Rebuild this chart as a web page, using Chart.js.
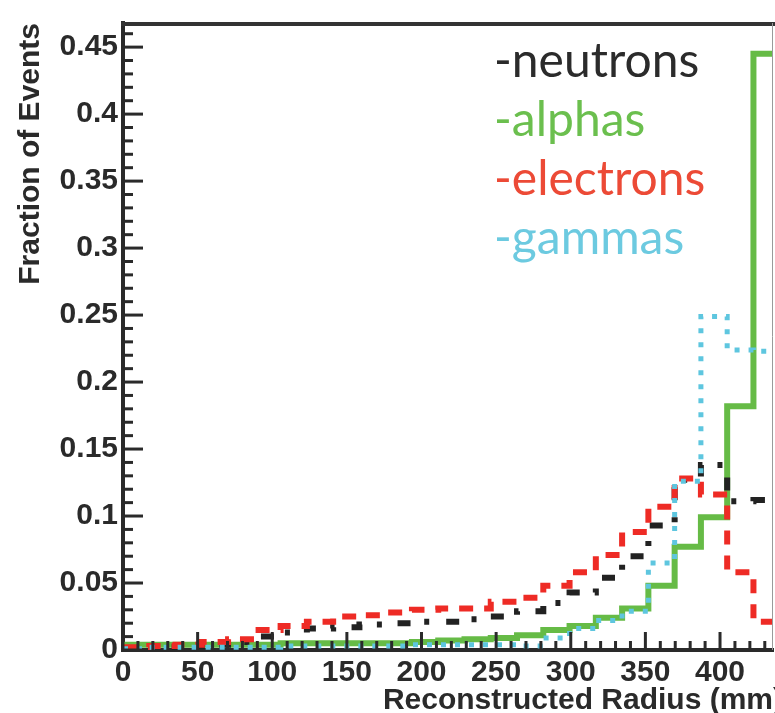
<!DOCTYPE html>
<html>
<head>
<meta charset="utf-8">
<title>Reconstructed Radius</title>
<script src="https://cdn.jsdelivr.net/npm/chart.js@4.4.1/dist/chart.umd.min.js"></script>
<style>
  html, body { margin: 0; padding: 0; background: #ffffff; overflow: hidden; }
  #wrap { width: 775px; height: 713px; }
</style>
</head>
<body>
<div id="wrap"><canvas id="radiusChart" width="775" height="713"></canvas></div>
<script>
// Histogram bins of reconstructed radius (mm): lower edges, plus the upper edge of the last bin
const radiusBinStarts = [0, 17.6, 35.2, 52.8, 70.4, 88, 105.6, 123.2, 140.8, 158.4,
  176, 193.6, 211.2, 228.8, 246.4, 264, 281.6, 299.2, 316.8, 334.4,
  352, 369.6, 387.2, 404.8, 422.4];
const radiusEnd = 440;

// Fraction of events in each bin
const neutrons = [0.001, 0.002, 0.003, 0.004, 0.006, 0.010, 0.013, 0.016, 0.017, 0.019,
  0.020, 0.021, 0.021, 0.023, 0.025, 0.029, 0.035, 0.043, 0.054, 0.070,
  0.093, 0.127, 0.138, 0.111, 0.112];
const alphas = [0.004, 0.004, 0.004, 0.004, 0.004, 0.004, 0.005, 0.005, 0.005, 0.005,
  0.005, 0.006, 0.007, 0.008, 0.009, 0.011, 0.015, 0.018, 0.024, 0.031,
  0.048, 0.077, 0.099, 0.182, 0.445];
const electrons = [0.002, 0.003, 0.004, 0.006, 0.008, 0.015, 0.018, 0.021, 0.025, 0.026,
  0.028, 0.030, 0.031, 0.031, 0.036, 0.039, 0.048, 0.058, 0.071, 0.088,
  0.107, 0.128, 0.116, 0.058, 0.021];
const gammas = [0.001, 0.002, 0.002, 0.002, 0.002, 0.002, 0.003, 0.003, 0.003, 0.003,
  0.003, 0.004, 0.004, 0.004, 0.004, 0.003, 0.009, 0.016, 0.022, 0.029,
  0.065, 0.126, 0.249, 0.224, 0.223];

const seriesLabels = ['-neutrons', '-alphas', '-electrons', '-gammas'];

const xTickValues = [0, 50, 100, 150, 200, 250, 300, 350, 400];
const yTickValues = [0, 0.05, 0.1, 0.15, 0.2, 0.25, 0.3, 0.35, 0.4, 0.45];
const yTickLabels = ['0', '0.05', '0.1', '0.15', '0.2', '0.25', '0.3', '0.35', '0.4', '0.45'];

const xAxisTitle = 'Reconstructed Radius (mm)';
const yAxisTitle = 'Fraction of Events';

// Turn bin starts + contents into step points (closing point at the upper edge)
function histogramPoints(values) {
  const pts = radiusBinStarts.map((x, i) => ({ x: x, y: values[i] }));
  pts.push({ x: radiusEnd, y: values[values.length - 1] });
  return pts;
}

const AXIS_COLOR = '#2a2a2a';
const LABEL_FONT = "'Liberation Sans', Arial, Helvetica, sans-serif";

// Inward tick marks plus the top and right frame lines
const frameTicks = {
  id: 'frameTicks',
  afterDatasetsDraw(chart) {
    const { ctx, chartArea: a, scales: { x, y } } = chart;
    ctx.save();
    ctx.strokeStyle = AXIS_COLOR;
    ctx.lineWidth = 3;
    ctx.lineCap = 'butt';
    for (let k = 0; k <= 46; k++) {
      const py = y.getPixelForValue(k / 100);
      const len = k % 5 === 0 ? 20 : 10;
      ctx.beginPath();
      ctx.moveTo(a.left, py);
      ctx.lineTo(a.left + len, py);
      ctx.stroke();
    }
    for (let m = 0; m <= 430; m += 10) {
      const px = x.getPixelForValue(m);
      const len = m % 50 === 0 ? 18 : 9;
      ctx.beginPath();
      ctx.moveTo(px, a.bottom);
      ctx.lineTo(px, a.bottom - len);
      ctx.stroke();
    }
    // top frame
    ctx.lineWidth = 4;
    ctx.strokeStyle = '#333333';
    ctx.beginPath();
    ctx.moveTo(a.left - 2, a.top + 1);
    ctx.lineTo(chart.width, a.top + 1);
    ctx.stroke();
    // right frame
    ctx.lineWidth = 1;
    ctx.strokeStyle = '#9a9a9a';
    ctx.beginPath();
    ctx.moveTo(a.right - 0.5, a.top);
    ctx.lineTo(a.right - 0.5, a.bottom);
    ctx.stroke();
    ctx.restore();
  }
};

// Coloured text legend inside the plot and the x-axis title
const legendAndTitle = {
  id: 'legendAndTitle',
  afterDraw(chart) {
    const { ctx, chartArea: a } = chart;
    ctx.save();
    ctx.font = "48px Lato, 'Open Sans', sans-serif";
    ctx.textAlign = 'left';
    ctx.textBaseline = 'alphabetic';
    chart.data.datasets.forEach((ds, i) => {
      ctx.fillStyle = ds.legendColor;
      ctx.fillText(ds.label, a.left + 371, a.top + 54 + i * 59);
    });
    ctx.font = 'bold 30px ' + LABEL_FONT;
    ctx.fillStyle = AXIS_COLOR;
    ctx.textAlign = 'right';
    ctx.fillText(xAxisTitle, a.right + 10, a.bottom + 59);
    ctx.restore();
  }
};

const ctx = document.getElementById('radiusChart').getContext('2d');
new Chart(ctx, {
  type: 'line',
  data: {
    datasets: [
      {
        label: seriesLabels[0],
        data: histogramPoints(neutrons),
        borderColor: '#222222',
        legendColor: '#2b2b2b',
        borderWidth: 6,
        borderDash: [13, 15, 5, 17],
        order: 3
      },
      {
        label: seriesLabels[1],
        data: histogramPoints(alphas),
        borderColor: '#66bb46',
        legendColor: '#6bbf4e',
        borderWidth: 6,
        order: 4
      },
      {
        label: seriesLabels[2],
        data: histogramPoints(electrons),
        borderColor: '#ee2b25',
        legendColor: '#ec4a36',
        borderWidth: 6,
        borderDash: [14, 11],
        order: 2
      },
      {
        label: seriesLabels[3],
        data: histogramPoints(gammas),
        borderColor: '#5ec6df',
        legendColor: '#6ccae0',
        borderWidth: 5,
        borderDash: [5, 9],
        order: 1
      }
    ]
  },
  options: {
    responsive: false,
    animation: false,
    devicePixelRatio: 1,
    layout: { padding: { top: 13, right: 2, left: 0, bottom: 0 } },
    elements: {
      point: { radius: 0, hoverRadius: 0 },
      line: { stepped: 'before', fill: false, tension: 0, borderCapStyle: 'butt', borderJoinStyle: 'miter' }
    },
    plugins: {
      legend: { display: false },
      tooltip: { enabled: false }
    },
    scales: {
      x: {
        type: 'linear',
        min: 0,
        max: 435.5,
        afterBuildTicks(scale) { scale.ticks = xTickValues.map(v => ({ value: v })); },
        afterFit(scale) { scale.height = 63; },
        grid: { display: false, drawTicks: false },
        border: { display: true, width: 4, color: AXIS_COLOR },
        ticks: {
          autoSkip: false,
          maxRotation: 0,
          padding: 5,
          color: AXIS_COLOR,
          font: { family: LABEL_FONT, size: 30, weight: 'bold' },
          callback: (v) => String(v)
        },
        title: { display: false }
      },
      y: {
        type: 'linear',
        min: 0,
        max: 0.468,
        afterBuildTicks(scale) { scale.ticks = yTickValues.map(v => ({ value: v })); },
        afterFit(scale) { scale.width = 123; },
        grid: { display: false, drawTicks: false },
        border: { display: true, width: 4, color: AXIS_COLOR },
        ticks: {
          padding: 5,
          color: AXIS_COLOR,
          font: { family: LABEL_FONT, size: 30, weight: 'bold' },
          callback: (v, i) => yTickLabels[i]
        },
        title: {
          display: true,
          text: yAxisTitle,
          align: 'end',
          color: AXIS_COLOR,
          font: { family: LABEL_FONT, size: 30, weight: 'bold' },
          padding: { top: 13, bottom: 0 }
        }
      }
    }
  },
  plugins: [frameTicks, legendAndTitle]
});
</script>
</body>
</html>
